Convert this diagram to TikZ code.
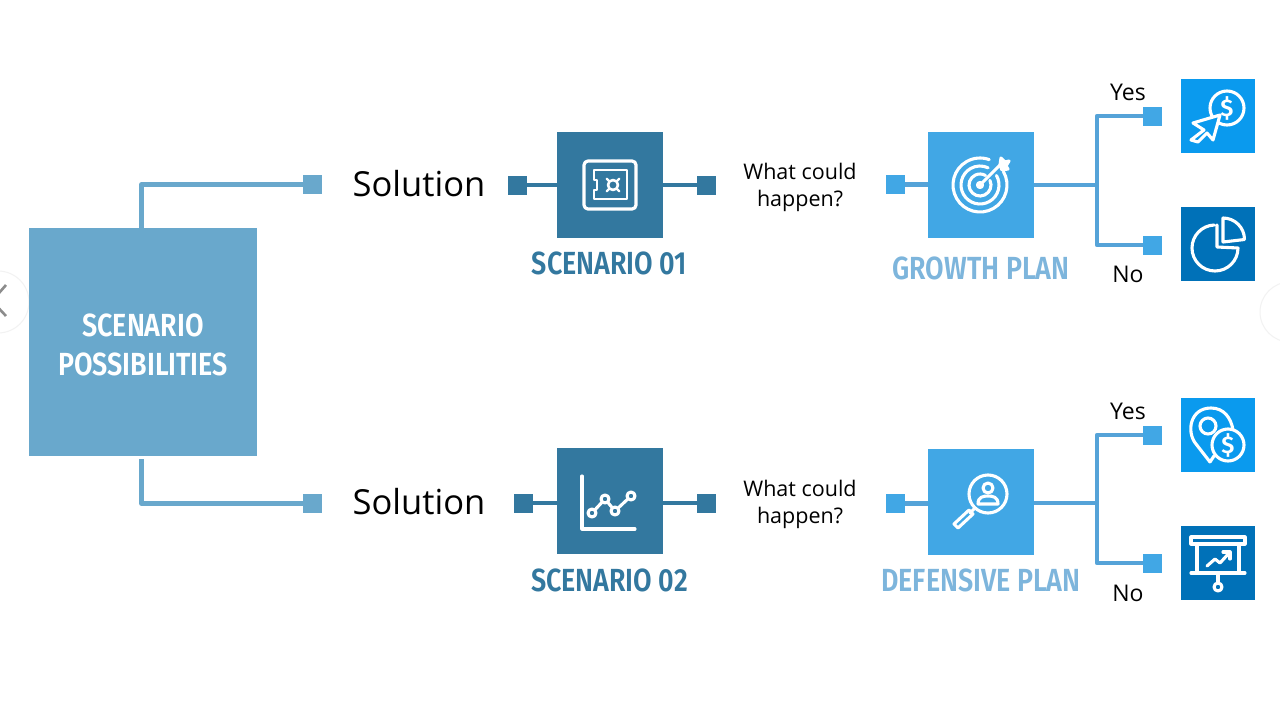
\documentclass[tikz,border=0pt]{standalone}
\usepackage{fontspec}
\setmainfont{Open Sans}
\newfontfamily\condfont[FakeStretch=0.84]{Fira Sans SemiBold}
\newfontfamily\iconfont{Fira Sans SemiBold}
\definecolor{cmain}{HTML}{69A8CC}
\definecolor{cscen}{HTML}{33789F}
\definecolor{cplan}{HTML}{41A7E5}
\definecolor{cline}{HTML}{55A3D8}
\definecolor{cyes}{HTML}{0A9AEE}
\definecolor{cno}{HTML}{0071B8}
\definecolor{cgrow}{HTML}{7DB5DC}
\tikzset{
  sq/.style={rectangle,draw=none,minimum size=19pt,inner sep=0pt,outer sep=0pt},
  bigbox/.style={rectangle,draw=none,minimum size=106pt,inner sep=0pt,outer sep=0pt},
  iconbox/.style={rectangle,draw=none,minimum size=74pt,inner sep=0pt,outer sep=0pt},
  conn/.style={line width=4.2pt,line join=round},
  ic/.style={draw=white,line width=3.1pt,line join=round,line cap=round},
  capt/.style={inner sep=0pt,font=\fontsize{32}{36}\selectfont\condfont},
  soln/.style={inner sep=0pt,text=black,font=\fontsize{34.5}{38}\selectfont},
  small/.style={inner sep=0pt,text=black,align=center,font=\fontsize{21.5}{27.5}\selectfont},
  yesno/.style={inner sep=0pt,text=black,font=\fontsize{23}{27}\selectfont},
  dollar/.style={inner sep=0pt,text=white,font=\fontsize{24}{24}\selectfont\iconfont}
}
\begin{document}
\begin{tikzpicture}[x=1pt,y=-1pt]
\useasboundingbox (0,0) rectangle (1280,720);
\fill[white] (0,0) rectangle (1280,720);
\clip (0,0) rectangle (1280,720);
% carousel controls
\draw[black!5,fill=white,line width=1pt] (-2,302) circle (31);
\draw[black!5,line width=1pt] (1290,312) circle (30);
\draw[black!45,line width=2.6pt] (6,285) -- (-8,301) -- (6,316);
% nodes
\fill[cmain] (29,228) rectangle (257,456);
\node[inner sep=0pt,text=white,align=center,font=\fontsize{32}{39}\selectfont\condfont] (maint) at (143,345) {SCENARIO\\POSSIBILITIES};
\coordinate (mt) at (141.5,228);
\coordinate (mb) at (141.5,459);
\node[sq,fill=cmain] (s1) at (312.5,184.5) {};
\node[sq,fill=cmain] (s2) at (312.5,503.5) {};
\node[soln] (sol1) at (419,184) {Solution};
\node[soln] (sol2) at (419,502) {Solution};
% scenario 1
\node[bigbox,fill=cscen] (sc1) at (610,185) {};
\node[sq,fill=cscen] (sc1l) at (517.5,185) {};
\node[sq,fill=cscen] (sc1r) at (706,185) {};
\node[capt,text=cscen] (sc1t) at (609.5,263) {SCENARIO 01};
\node[small] (q1) at (800,187.5) {What could\\happen?};
% scenario 2
\node[bigbox,fill=cscen] (sc2) at (610,501) {};
\node[sq,fill=cscen] (sc2l) at (523.5,503) {};
\node[sq,fill=cscen] (sc2r) at (706,503) {};
\node[capt,text=cscen] (sc2t) at (609.5,580) {SCENARIO 02};
\node[small] (q2) at (800,504.5) {What could\\happen?};
% growth
\node[bigbox,fill=cplan] (gp) at (981,185) {};
\node[sq,fill=cplan] (gpl) at (895.5,184.5) {};
\node[capt,text=cgrow] (gpt) at (981,268) {GROWTH PLAN};
\coordinate (gj) at (1097,185);
\node[sq,fill=cplan] (gy) at (1152.5,116) {};
\node[sq,fill=cplan] (gn) at (1152.5,245) {};
\node[iconbox,fill=cyes] (giy) at (1218,116) {};
\node[iconbox,fill=cno] (gin) at (1218,244) {};
\node[yesno] (gyt) at (1128,92) {Yes};
\node[yesno] (gnt) at (1128,274) {No};
% defensive
\node[bigbox,fill=cplan] (dp) at (981,501.5) {};
\node[sq,fill=cplan] (dpl) at (895.5,503.5) {};
\node[capt,text=cgrow] (dpt) at (981,580) {DEFENSIVE PLAN};
\coordinate (dj) at (1097,503);
\node[sq,fill=cplan] (dy) at (1152.5,435) {};
\node[sq,fill=cplan] (dn) at (1152.5,563) {};
\node[iconbox,fill=cyes] (diy) at (1218,435) {};
\node[iconbox,fill=cno] (din) at (1218,563) {};
\node[yesno] (dyt) at (1128,411) {Yes};
\node[yesno] (dnt) at (1128,593) {No};
% connectors
\draw[conn,cmain] (mt) |- (s1.west);
\draw[conn,cmain] (mb) |- (s2.west);
\draw[conn,cscen] (sc1l.east) -- (sc1.west);
\draw[conn,cscen] (sc1.east) -- (sc1r.west);
\draw[conn,cscen] (sc2l.east) -- (sc2l.east -| sc2.west);
\draw[conn,cscen] (sc2r.west -| sc2.east) -- (sc2r.west);
\draw[conn,cline] (gpl.east) -- (gpl.east -| gp.west);
\draw[conn,cline] (gp.east) -- (gj);
\draw[conn,cline] (gj) |- (gy.west);
\draw[conn,cline] (gj) |- (gn.west);
\draw[conn,cline] (dpl.east) -- (dpl.east -| dp.west);
\draw[conn,cline] (dj -| dp.east) -- (dj);
\draw[conn,cline] (dj) |- (dy.west);
\draw[conn,cline] (dj) |- (dn.west);
% safe icon
\draw[ic,line width=3.2pt,rounded corners=4pt] (584,161) rectangle (636,209);
\draw[ic,line width=2.6pt] (594,170) -- (627,170) -- (627,199) -- (594,199) -- (594,190) -- (597,190) -- (597,180) -- (594,180) -- cycle;
\draw[ic,line width=2.6pt] (613,185) circle (5);
\foreach \a in {45,135,225,315}{\draw[ic,line width=2.4pt] (613,185) ++(\a:6) -- ++(\a:3);}
% chart icon
\draw[ic] (582,476) -- (582,529) -- (635,529);
\draw[ic] (592,513) -- (605,499) -- (615,511) -- (631,496);
\foreach \p in {(592,513),(605,499),(615,511),(631,496)}{\draw[ic,fill=cscen] \p circle (4);}
% target icon
\draw[ic] (980,185) ++(-30:27) arc[start angle=-30,end angle=290,radius=27];
\draw[ic] (980,185) ++(-30:19) arc[start angle=-30,end angle=295,radius=19];
\draw[ic] (980,185) ++(-25:11) arc[start angle=-25,end angle=300,radius=11];
\draw[ic] (980,185) circle (2.5);
\draw[ic] (980,185) -- (1000,165);
\draw[ic,fill=white] (1000,165) -- (1001,158) -- (1005,162) -- (1009,161) -- (1006,166) -- (1008,169) -- (1002,170) -- cycle;
% magnifier icon
\draw[ic] (988,494) circle (19);
\draw[ic] (988,488) circle (5);
\draw[ic] (978,504) .. controls (978,497) and (983,496) .. (988,496) .. controls (993,496) and (998,497) .. (998,504) -- cycle;
\draw[ic] (975,508) -- (970,513);
\draw[ic] (969,510) -- (954,524) -- (958,528) -- (973,514) -- cycle;
% cursor icon
\draw[ic] (1227,108) circle (17);
\node[dollar] (d1) at (1227,108) {\$};
\draw[ic,fill=cyes] (1220,115) -- (1193,123) -- (1204,130) -- (1191,140) -- (1198,142) -- (1207,133) -- (1213,140) -- cycle;
% pie icon
\draw[ic] (1217,225) -- (1217,247) -- (1238,248) arc[start angle=0,end angle=268,radius=23];
\draw[ic] (1223,242) -- (1223,218) arc[start angle=-90,end angle=0,radius=21.5] -- cycle;
% pin icon
\draw[ic] (1210,462) -- (1196,444) .. controls (1186,432) and (1190,408) .. (1211,408) .. controls (1224,408) and (1231,418) .. (1233,430);
\draw[ic] (1210,462) -- (1214,456);
\draw[ic] (1208,426) circle (8);
\draw[ic,fill=cyes] (1228,445) circle (16);
\node[dollar] (d2) at (1228,445) {\$};
% presentation icon
\draw[ic] (1191,537) rectangle (1245,544);
\draw[ic] (1191,573) -- (1245,573);
\draw[ic] (1197,544) -- (1197,573);
\draw[ic] (1239,544) -- (1239,573);
\draw[ic] (1218,573) -- (1218,583);
\draw[ic,fill=cno] (1218,587) circle (4);
\draw[ic] (1207,566) -- (1215,559) -- (1220,563) -- (1230,552);
\draw[ic] (1223,552) -- (1230,552) -- (1230,559);
\end{tikzpicture}
\end{document}
